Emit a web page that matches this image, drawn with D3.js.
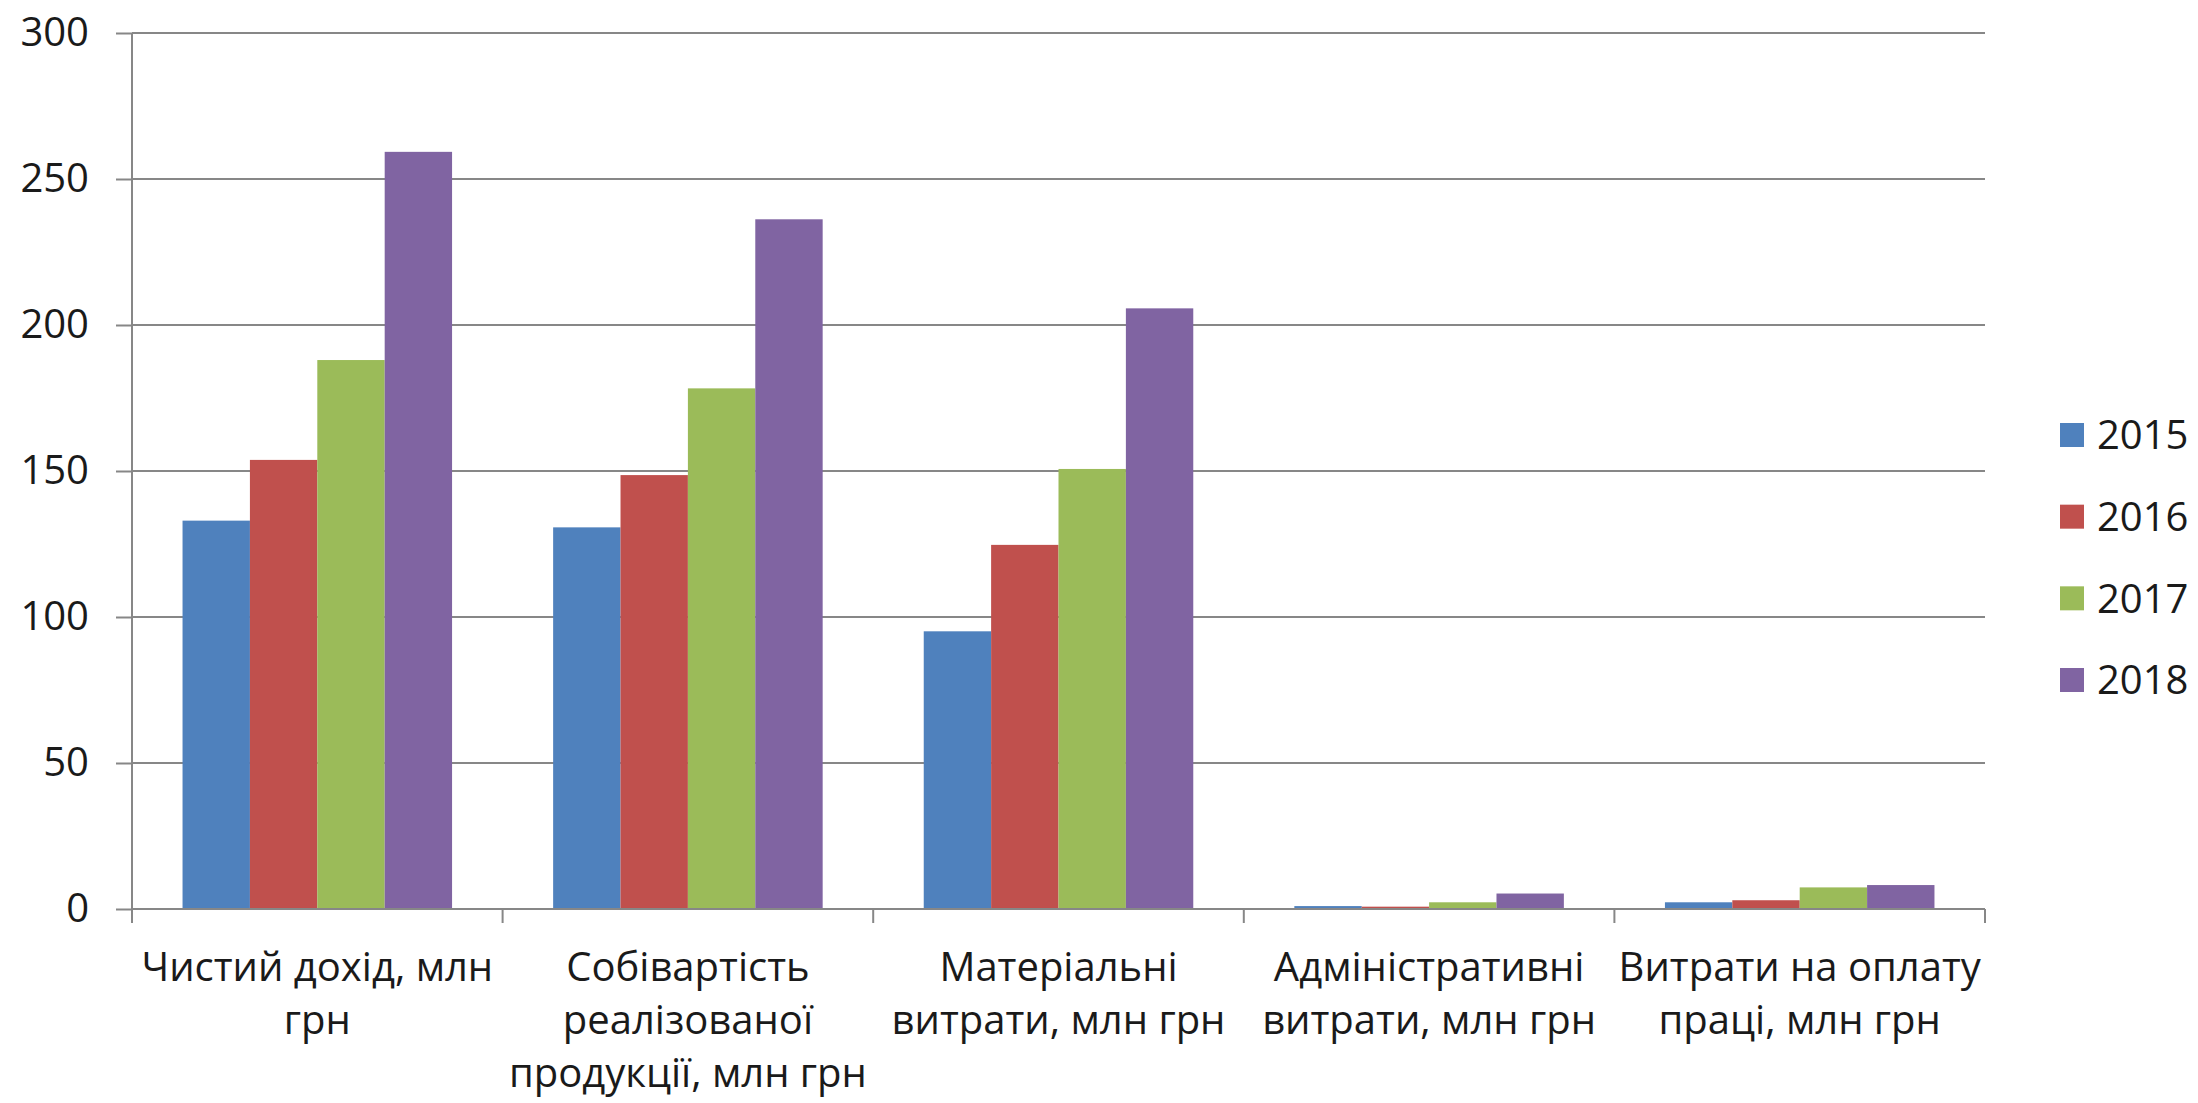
<!DOCTYPE html>
<html lang="uk">
<head>
<meta charset="utf-8">
<script src="https://cdn.jsdelivr.net/npm/d3@7"></script>
<style>
  html, body { margin: 0; padding: 0; background: #ffffff; }
  svg { display: block; }
  text { font-family: "Open Sans", "Noto Sans", "DejaVu Sans", sans-serif; fill: #1a1a1a; }
</style>
</head>
<body>
<svg id="chart" width="2198" height="1103"></svg>
<script>
// Financial indicators of the enterprise, 2015–2018 (million UAH)
const categories = [
  "Чистий дохід, млн грн",
  "Собівартість реалізованої продукції, млн грн",
  "Матеріальні витрати, млн грн",
  "Адміністративні витрати, млн грн",
  "Витрати на оплату праці, млн грн"
];
// Wrapped lines for the category axis labels
const categoryLines = [
  ["Чистий дохід, млн", "грн"],
  ["Собівартість", "реалізованої", "продукції, млн грн"],
  ["Матеріальні", "витрати, млн грн"],
  ["Адміністративні", "витрати, млн грн"],
  ["Витрати на оплату", "праці, млн грн"]
];
const years = ["2015", "2016", "2017", "2018"];
const values2015 = [133.0, 130.7, 95.1, 1.0, 2.3];
const values2016 = [153.8, 148.6, 124.7, 0.8, 3.0];
const values2017 = [188.0, 178.3, 150.7, 2.3, 7.4];
const values2018 = [259.3, 236.2, 205.7, 5.3, 8.2];
const seriesColors = ["#4F81BD", "#C0504D", "#9BBB59", "#8064A2"];
const yTicks = [0, 50, 100, 150, 200, 250, 300];

const seriesValues = [values2015, values2016, values2017, values2018];
const table = categories.map((c, i) => ({
  category: c,
  lines: categoryLines[i],
  values: years.map((yr, k) => ({ year: yr, value: seriesValues[k][i] }))
}));

const svg = d3.select("#chart");
const plotLeft = 132, plotRight = 1985, plotTop = 33, plotBottom = 909;
const gray = "#878787";

const x0 = d3.scaleBand().domain(categories).range([plotLeft, plotRight]).paddingInner(0).paddingOuter(0);
const bw = x0.bandwidth();
const gap = bw * 1.5 / 5.5; // space between groups equals 1.5 bar widths
const x1 = d3.scaleBand().domain(years).range([gap / 2, bw - gap / 2]).padding(0);
const y = d3.scaleLinear().domain([0, 300]).range([plotBottom, plotTop]);
const color = d3.scaleOrdinal().domain(years).range(seriesColors);

// Horizontal gridlines
svg.append("g")
  .selectAll("line")
  .data(yTicks.filter(t => t > 0))
  .join("line")
  .attr("x1", plotLeft).attr("x2", plotRight)
  .attr("y1", d => y(d)).attr("y2", d => y(d))
  .attr("stroke", gray).attr("stroke-width", 2);

// Value axis with outward ticks and labels
const yAxis = svg.append("g")
  .attr("transform", `translate(${plotLeft},0)`)
  .call(d3.axisLeft(y).tickValues(yTicks).tickSize(16).tickPadding(27).tickSizeOuter(0));
yAxis.select(".domain").remove();
yAxis.selectAll(".tick line").attr("stroke", gray).attr("stroke-width", 2);
yAxis.selectAll(".tick text")
  .attr("font-size", 40)
  .attr("font-family", "Open Sans, Noto Sans, sans-serif")
  .attr("fill", "#1a1a1a");

// Bars
const groups = svg.append("g")
  .selectAll("g")
  .data(table)
  .join("g")
  .attr("transform", d => `translate(${x0(d.category)},0)`);

groups.selectAll("rect")
  .data(d => d.values)
  .join("rect")
  .attr("x", d => x1(d.year))
  .attr("width", x1.bandwidth())
  .attr("y", d => y(d.value))
  .attr("height", d => y(0) - y(d.value))
  .attr("fill", d => color(d.year));

// Category axis line, value axis line and boundary ticks
svg.append("line")
  .attr("x1", plotLeft).attr("x2", plotRight)
  .attr("y1", y(0)).attr("y2", y(0))
  .attr("stroke", gray).attr("stroke-width", 2);
svg.append("line")
  .attr("x1", plotLeft).attr("x2", plotLeft)
  .attr("y1", plotTop).attr("y2", y(0))
  .attr("stroke", gray).attr("stroke-width", 2);

const boundaries = categories.map(c => x0(c)).concat([x0.range()[1]]);
svg.append("g")
  .selectAll("line")
  .data(boundaries)
  .join("line")
  .attr("x1", d => d).attr("x2", d => d)
  .attr("y1", y(0)).attr("y2", y(0) + 14)
  .attr("stroke", gray).attr("stroke-width", 2);

// Category labels
const labels = svg.append("g")
  .selectAll("text")
  .data(table)
  .join("text")
  .attr("text-anchor", "middle")
  .attr("font-size", 40)
  .attr("x", d => x0(d.category) + bw / 2)
  .attr("y", 981);
labels.selectAll("tspan")
  .data(d => d.lines.map(l => ({ line: l, x: x0(d.category) + bw / 2 })))
  .join("tspan")
  .attr("x", d => d.x)
  .attr("dy", (d, i) => i === 0 ? 0 : 53)
  .text(d => d.line);

// Legend
const legend = svg.append("g").attr("transform", "translate(2060,0)");
const legendY = d3.scalePoint().domain(years).range([435, 680]);
const items = legend.selectAll("g")
  .data(years)
  .join("g")
  .attr("transform", d => `translate(0,${legendY(d)})`);
items.append("rect")
  .attr("x", 0).attr("y", -12)
  .attr("width", 24).attr("height", 24)
  .attr("fill", d => color(d));
items.append("text")
  .attr("x", 37).attr("y", 0).attr("dy", "0.36em")
  .attr("font-size", 40)
  .text(d => d);
</script>
</body>
</html>
